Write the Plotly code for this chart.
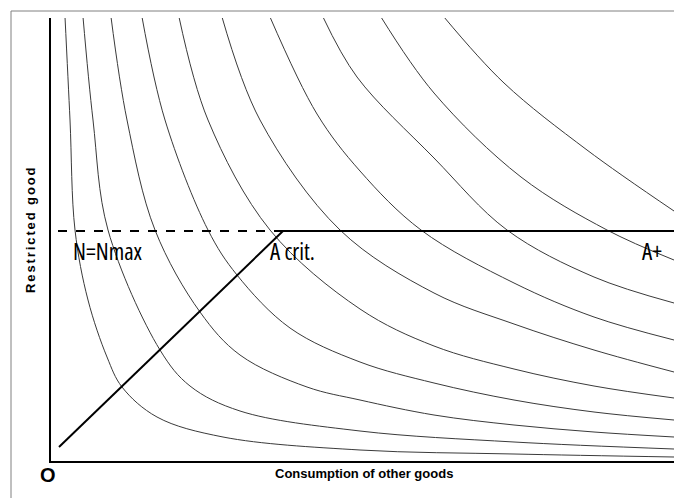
import plotly.graph_objects as go

# Indifference curves (x = other goods, y = restricted good)
c1_x = [14, 19, 24, 37, 56, 71, 106, 172, 309, 463, 623]
c1_y = [444, 341, 231, 161, 104, 74, 44, 24, 11, 7, 4]
c2_x = [32, 42, 57, 109, 139, 189, 309, 463, 623]
c2_y = [444, 341, 231, 111, 75, 50, 30, 19, 12]
c3_x = [60, 76, 104, 149, 189, 256, 309, 383, 463, 543, 623]
c3_y = [444, 341, 231, 149, 106, 74, 61, 46, 36, 29, 24]
c4_x = [91, 114, 157, 186, 239, 309, 383, 463, 543, 623]
c4_y = [444, 341, 231, 186, 133, 99, 78, 61, 49, 41]
c5_x = [128, 157, 219, 309, 383, 463, 543, 623]
c5_y = [444, 341, 231, 152, 115, 92, 75, 63]
c6_x = [171, 209, 289, 383, 463, 543, 623]
c6_y = [444, 341, 231, 168, 137, 111, 89]
c7_x = [219, 266, 309, 370, 463, 543, 623]
c7_y = [444, 347, 290, 231, 178, 144, 121]
c8_x = [272, 306, 383, 456, 543, 623]
c8_y = [444, 384, 303, 231, 184, 158]
c9_x = [330, 383, 470, 556, 623]
c9_y = [444, 368, 284, 231, 201]
c10_x = [393, 453, 536, 623]
c10_y = [444, 378, 311, 250]

curves = [(c1_x, c1_y), (c2_x, c2_y), (c3_x, c3_y), (c4_x, c4_y), (c5_x, c5_y),
          (c6_x, c6_y), (c7_x, c7_y), (c8_x, c8_y), (c9_x, c9_y), (c10_x, c10_y)]

# Expansion path and the ration limit
path_x = [8, 232]
path_y = [14, 230]
nmax_level = 230
dash_x = [7, 232]
limit_x = [232, 623]

labels = ["N=Nmax", "A crit.", "A+"]
label_x = [20, 217, 589]
label_y = [231, 231, 231]

x_range = [0, 623]
y_range = [0, 443]

fig = go.Figure()
for cx, cy in curves:
    fig.add_trace(go.Scatter(x=cx, y=cy, mode="lines",
                             line=dict(color="#3a3a3a", width=1, shape="spline", smoothing=1.0),
                             hoverinfo="skip", showlegend=False))

fig.add_trace(go.Scatter(x=dash_x, y=[nmax_level, nmax_level], mode="lines",
                         line=dict(color="black", width=2, dash="dash"), showlegend=False))
fig.add_trace(go.Scatter(x=limit_x, y=[nmax_level, nmax_level], mode="lines",
                         line=dict(color="black", width=2), showlegend=False))
fig.add_trace(go.Scatter(x=path_x, y=path_y, mode="lines",
                         line=dict(color="black", width=2), showlegend=False))

sans = "Liberation Sans, Arial"
for t, lx, ly in zip(labels, label_x, label_y):
    fig.add_annotation(x=lx, y=ly, text='<span style="font-stretch:75%;font-weight:500">' + t + '</span>',
                       showarrow=False, xanchor="left", yanchor="top", yshift=-3,
                       font=dict(family="Open Sans", size=23, color="black"))

fig.add_annotation(x=0, y=0, xref="paper", yref="paper", text="<b>O</b>", showarrow=False,
                   xanchor="center", yanchor="top", xshift=-3, yshift=-1,
                   font=dict(family=sans, size=20, color="black"))
fig.add_annotation(x=(364 - 51) / 623, y=0, xref="paper", yref="paper",
                   text="<b>Consumption of other goods</b>",
                   showarrow=False, xanchor="center", yanchor="top", yshift=-3,
                   font=dict(family=sans, size=13, color="black"))
fig.add_annotation(x=(30 - 51) / 623, y=(461 - 230) / 443, xref="paper", yref="paper",
                   text='<span style="letter-spacing:1.9px"><b>Restricted good</b></span>',
                   textangle=-90, showarrow=False, xanchor="center", yanchor="middle",
                   font=dict(family=sans, size=13, color="black"))

# outer frame (left and top)
fx = (11 - 51) / 623
fy_top = (461 - 11) / 443
fy_bot = (461 - 498) / 443
fig.add_shape(type="line", xref="paper", yref="paper", x0=fx, x1=fx, y0=fy_bot, y1=fy_top,
              line=dict(color="#808080", width=1))
fig.add_shape(type="line", xref="paper", yref="paper", x0=fx, x1=1.0, y0=fy_top, y1=fy_top,
              line=dict(color="#808080", width=1))

fig.update_xaxes(range=x_range, showgrid=False, zeroline=False, showticklabels=False, ticks="",
                 showline=True, linecolor="black", linewidth=2)
fig.update_yaxes(range=y_range, showgrid=False, zeroline=False, showticklabels=False, ticks="",
                 showline=True, linecolor="black", linewidth=2)
fig.update_layout(width=674, height=498, margin=dict(l=51, r=0, t=18, b=37),
                  plot_bgcolor="white", paper_bgcolor="white", showlegend=False)

fig.write_html("out.html", config={"displayModeBar": False},
               post_script="document.body.style.margin='0';document.body.style.overflow='hidden';")
